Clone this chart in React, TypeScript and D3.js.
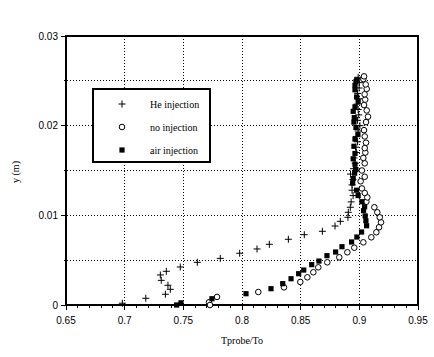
import React from "react";
import * as d3 from "d3";

const W = 434;
const H = 357;

// He injection (x = Tprobe/To, y in m)
const heX = [0.698, 0.718, 0.7347, 0.7389, 0.7369, 0.7312, 0.7304, 0.7355, 0.7474, 0.7619, 0.7815, 0.798, 0.8128, 0.8233, 0.8395, 0.8531, 0.8685, 0.8793, 0.8838, 0.8903, 0.8906, 0.8923,
  0.893, 0.8947, 0.8938, 0.8938, 0.8945, 0.8925, 0.895, 0.8965, 0.8955, 0.8975, 0.8968, 0.8985, 0.8975, 0.899, 0.9005, 0.8985, 0.8995, 0.899, 0.898, 0.8995, 0.8985, 0.8998, 0.9, 0.899];
const heY = [0.0002, 0.00075, 0.0012, 0.00175, 0.0022, 0.00275, 0.00335, 0.00376, 0.00424, 0.00476, 0.0052, 0.00577, 0.00625, 0.00677, 0.00733, 0.00784, 0.00822, 0.00881, 0.00933, 0.00978, 0.01034, 0.0109,
  0.0115, 0.0122, 0.0128, 0.0134, 0.014, 0.0146, 0.0152, 0.0158, 0.0164, 0.017, 0.0176, 0.0182, 0.0188, 0.0194, 0.02, 0.0206, 0.0212, 0.0218, 0.0224, 0.023, 0.0236, 0.0242, 0.0248, 0.0254];

// no injection
const noX = [0.7719, 0.7727, 0.7787, 0.8139, 0.8358, 0.8497, 0.8557, 0.8608, 0.865, 0.8727, 0.8829, 0.8898, 0.8957, 0.9034, 0.9102, 0.9145, 0.9168, 0.9185, 0.9174, 0.9153, 0.9128, 0.906,
  0.9068, 0.9046, 0.9022, 0.9011, 0.9046, 0.9022, 0.9046, 0.9034, 0.9051, 0.9046, 0.9057, 0.9046, 0.904, 0.9057, 0.9074, 0.9063, 0.904, 0.905, 0.9045, 0.9063, 0.9054, 0.9034, 0.904];
const noY = [0.0003, 0.0, 0.0009, 0.00145, 0.00197, 0.00257, 0.00309, 0.00365, 0.0042, 0.00476, 0.00532, 0.00588, 0.00639, 0.00699, 0.00755, 0.00811, 0.00867, 0.00922, 0.00978, 0.01034, 0.0109, 0.01152,
  0.012, 0.0125, 0.013, 0.0138, 0.0143, 0.015, 0.0158, 0.0164, 0.017, 0.0175, 0.0181, 0.0188, 0.0195, 0.0204, 0.021, 0.0217, 0.0223, 0.0229, 0.0235, 0.0241, 0.0246, 0.0252, 0.0255];

// air injection
const airX = [0.7443, 0.748, 0.7744, 0.8034, 0.8247, 0.8347, 0.8418, 0.8483, 0.8526, 0.8594, 0.8656, 0.8724, 0.8798, 0.8852, 0.8934, 0.8979, 0.9019, 0.9062, 0.9056, 0.905, 0.9036, 0.9045, 0.9022,
  0.899, 0.8977, 0.8943, 0.8948, 0.896, 0.8971, 0.8963, 0.8948, 0.8963, 0.8954, 0.8963, 0.8988, 0.8971, 0.8954, 0.8957, 0.8948, 0.8963, 0.899, 0.8977, 0.8963, 0.8963, 0.8971, 0.8977];
const airY = [0.0, 0.00024, 0.0007, 0.00126, 0.00182, 0.00238, 0.00293, 0.00349, 0.0039, 0.0045, 0.0049, 0.0055, 0.00591, 0.0065, 0.00703, 0.00758, 0.00814, 0.00884, 0.0094, 0.00993, 0.01052, 0.01096, 0.01152,
  0.0122, 0.0128, 0.0136, 0.0141, 0.0147, 0.0151, 0.0157, 0.0163, 0.0169, 0.0177, 0.0185, 0.019, 0.0198, 0.0204, 0.0209, 0.0216, 0.0221, 0.0227, 0.0232, 0.024, 0.0245, 0.0249, 0.0251];

const xTicks = [0.65, 0.7, 0.75, 0.8, 0.85, 0.9, 0.95];
const yTicks = [0, 0.01, 0.02, 0.03];
const legendLabels = ["He injection", "no injection", "air injection"];

export default function App() {
  const left = 66, right = 418, top = 36, bottom = 305;
  const x = d3.scaleLinear().domain([0.65, 0.95]).range([left, right]);
  const y = d3.scaleLinear().domain([0, 0.03]).range([bottom, top]);
  const minorX = d3.range(0, 31).map((i) => 0.65 + i * 0.01);
  const gridX = [0.7, 0.75, 0.8, 0.85, 0.9];
  const gridY = [0.005, 0.01, 0.015, 0.02, 0.025];
  const tickFont = "Liberation Sans, Arial, sans-serif";
  const serif = "Liberation Serif, Times New Roman, serif";

  const plus = (cx: number, cy: number, k: string) => (
    <path key={k} d={`M${cx - 3.5},${cy}H${cx + 3.5}M${cx},${cy - 3.5}V${cy + 3.5}`} stroke="#000" strokeWidth={1} fill="none" />
  );
  const circ = (cx: number, cy: number, k: string) => (
    <circle key={k} cx={cx} cy={cy} r={2.8} fill="#fff" stroke="#000" strokeWidth={1} />
  );
  const sq = (cx: number, cy: number, k: string) => (
    <rect key={k} x={cx - 2.6} y={cy - 2.6} width={5.2} height={5.2} fill="#000" />
  );

  const lx = 122, lt = 104, ldy = 23;

  return (
    <svg width={W} height={H} style={{ position: "fixed", left: 0, top: 0, background: "#fff" }}>
      <rect x={0} y={0} width={W} height={H} fill="#fff" />
      {gridX.map((v) => (
        <line key={"gx" + v} x1={x(v)} x2={x(v)} y1={top} y2={bottom} stroke="#000" strokeWidth={1} strokeDasharray="1,2" shapeRendering="crispEdges" />
      ))}
      {gridY.map((v) => (
        <line key={"gy" + v} x1={left - 2} x2={right} y1={y(v)} y2={y(v)} stroke="#000" strokeWidth={1} strokeDasharray="1,2" shapeRendering="crispEdges" />
      ))}
      <rect x={left} y={top} width={right - left} height={bottom - top} fill="none" stroke="#000" strokeWidth={1.3} shapeRendering="crispEdges" />
      {minorX.map((v, i) => (
        <line key={"mx" + i} x1={x(v)} x2={x(v)} y1={bottom} y2={bottom + (i % 5 === 0 ? 5 : 3)} stroke="#000" strokeWidth={1} shapeRendering="crispEdges" />
      ))}
      {yTicks.map((v) => (
        <line key={"ty" + v} x1={left - 5} x2={left} y1={y(v)} y2={y(v)} stroke="#000" strokeWidth={1} shapeRendering="crispEdges" />
      ))}
      {xTicks.map((v) => (
        <text key={"xl" + v} x={x(v)} y={bottom + 19} textAnchor="middle" fontFamily={tickFont} fontSize={10}>{String(v)}</text>
      ))}
      {yTicks.map((v) => (
        <text key={"yl" + v} x={left - 8} y={y(v) + 3.5} textAnchor="end" fontFamily={tickFont} fontSize={10}>{String(v)}</text>
      ))}
      <text x={(left + right) / 2} y={344} textAnchor="middle" fontFamily={serif} fontSize={10}>Tprobe/To</text>
      <text transform={`translate(19,172) rotate(-90)`} textAnchor="middle" fontFamily={serif} fontSize={10}>y (m)</text>

      {noX.map((v, i) => circ(x(v), y(noY[i]), "n" + i))}
      {airX.map((v, i) => sq(x(v), y(airY[i]), "a" + i))}
      {heX.map((v, i) => plus(x(v), y(heY[i]), "h" + i))}

      <rect x={93} y={89} width={117} height={73} fill="#fff" stroke="#000" strokeWidth={1.2} shapeRendering="crispEdges" />
      {plus(lx, lt, "lp")}
      {circ(lx, lt + ldy, "lc")}
      {sq(lx, lt + 2 * ldy, "ls")}
      {legendLabels.map((t, i) => (
        <text key={t} x={150} y={lt + i * ldy + 3.5} fontFamily={serif} fontSize={10}>{t}</text>
      ))}
    </svg>
  );
}
